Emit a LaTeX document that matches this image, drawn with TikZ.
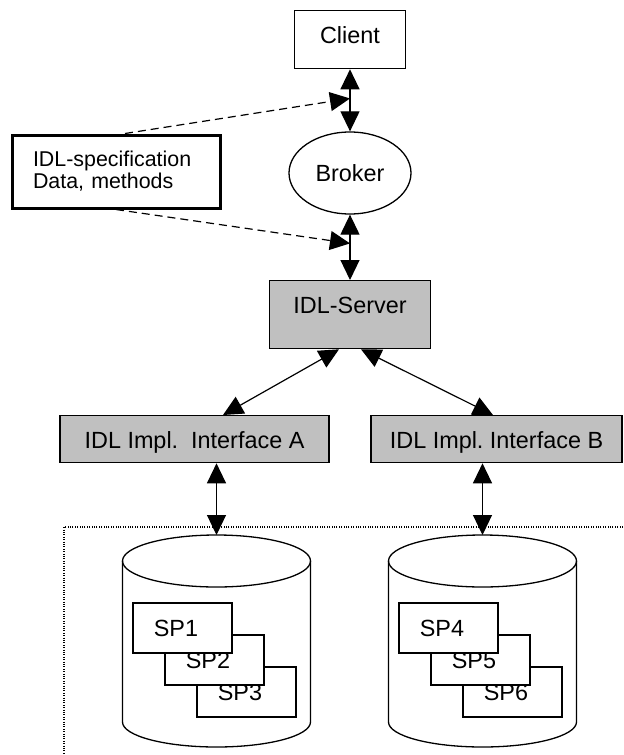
\documentclass[tikz,border=0pt]{standalone}
\usepackage{fontspec}
\setmainfont{Liberation Sans}
\usepackage{tikz}
\usetikzlibrary{shapes,arrows.meta,positioning,calc}
\definecolor{boxgray}{RGB}{192,192,192}

\begin{document}
\begin{tikzpicture}[
    x=0.5pt, y=0.5pt,
    >={Triangle[length=10pt,width=9.5pt]},
    font=\fontsize{11.7}{14}\selectfont,
    box/.style={rectangle, draw, line width=0.65pt, inner xsep=0pt, inner ysep=3pt, text height=13.5pt, anchor=north},
    graybox/.style={box, fill=boxgray},
    link/.style={<->, line width=0.6pt},
    hint/.style={->, line width=0.6pt, dash pattern=on 4pt off 2.5pt},
    spbox/.style={rectangle, draw, fill=white, line width=0.6pt, minimum width=49.5pt, minimum height=25pt, inner sep=0pt, execute at end node=\hspace{6.5pt}},
    database/.pic={
        \draw[line width=0.65pt, fill=white] (-94,0) -- (-94,-161) arc[start angle=180, end angle=360, x radius=94, y radius=25] -- (94,0);
        \draw[line width=0.65pt] (0,0) ellipse [x radius=94, y radius=26];
        \coordinate (-top) at (0,26);
    }
]
\useasboundingbox (0,0) rectangle (623,-755);
% dotted frame round the databases
\draw[line width=0.55pt, dash pattern=on 0.55pt off 0.65pt] (623,-527) -- (64,-527) -- (64,-755);

\node[box, minimum width=55.5pt, text depth=9.5pt] (client) at (350,-10) {Client};
\node[ellipse, draw, line width=0.65pt, minimum width=61pt, minimum height=41pt, inner sep=0pt] (broker) at (350,-173) {Broker};
\node[graybox, minimum width=80.5pt, text depth=14.5pt] (server) at (350,-280) {IDL-Server};
\node[rectangle, draw, line width=1.5pt, minimum width=104pt, minimum height=36.5pt, inner xsep=10.5pt, text width=83pt, align=left, font=\fontsize{10.7}{10.9}\selectfont] (spec) at (116,-171.5) {IDL-specification\\Data, methods};

\node[graybox, minimum width=134.5pt, text depth=4pt] (ifa) at (194.5,-415) {IDL Impl.\ \ Interface A};
\node[graybox, minimum width=125.5pt, text depth=4pt] (ifb) at (496.5,-415) {IDL Impl.\ Interface B};

\pic (dba) at (216.5,-561) {database};
\pic (dbb) at (482.5,-561) {database};

% stored procedures, back to front
\node[spbox] (sp3) at (246.5,-692) {SP3};
\node[spbox] (sp2) at (214.5,-660) {SP2};
\node[spbox] (sp1) at (182.5,-628) {SP1};
\node[spbox] (sp6) at (512.5,-692) {SP6};
\node[spbox] (sp5) at (480.5,-660) {SP5};
\node[spbox] (sp4) at (448.5,-628) {SP4};

\draw[link] (client.south) -- (broker.north);
\draw[link] (broker.south) -- (server.north);
\draw[hint] ([xshift=4.5pt]spec.north) -- ($(client.south)!0.47!(broker.north)$);
\draw[hint] (spec.south) -- ($(broker.south)!0.44!(server.north)$);
\draw[link] ([xshift=-5.5pt]server.south) -- ([xshift=14.25pt]ifa.north);
\draw[link] ([xshift=5.5pt]server.south) -- ([xshift=-1.75pt]ifb.north);
\draw[link] (ifa.south -| dba-top) -- (dba-top);
\draw[link] (ifb.south -| dbb-top) -- (dbb-top);
\end{tikzpicture}
\end{document}
